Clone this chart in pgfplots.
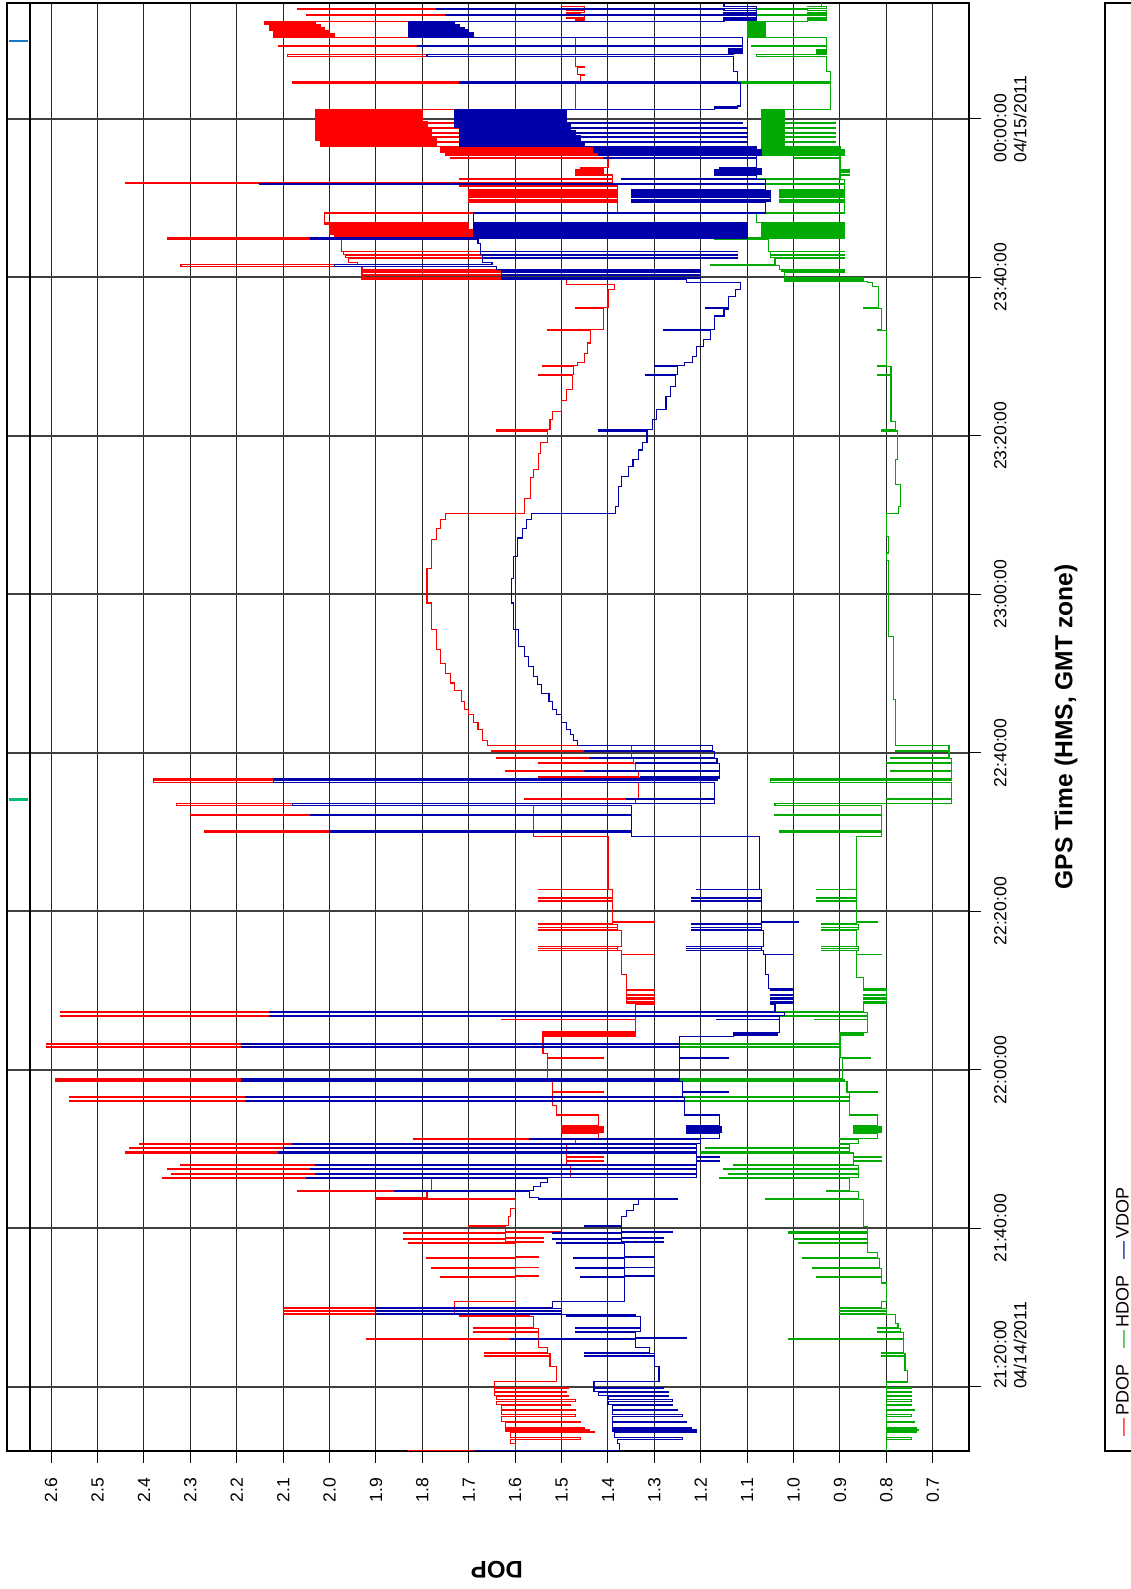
\documentclass[border=0pt]{standalone}
\usepackage{fontspec}
\setmainfont{Liberation Sans}
\usepackage{pgfplots}
\usepackage{pgfplotstable}
\pgfplotsset{compat=1.18}
\definecolor{pdop}{RGB}{255,0,0}
\definecolor{hdop}{RGB}{0,170,0}
\definecolor{vdop}{RGB}{0,0,170}

\pgfplotstableread{
t v
11.90 1.83
11.92 1.60
12.80 1.61
13.40 1.46
13.55 1.61
14.30 1.43
14.40 1.62
14.50 1.44
14.60 1.62
14.70 1.45
14.80 1.62
15.50 1.46
15.65 1.63
16.30 1.47
16.45 1.63
17.00 1.47
17.15 1.63
17.60 1.48
17.75 1.64
18.20 1.47
18.35 1.64
18.80 1.485
18.95 1.645
19.30 1.49
19.45 1.645
19.80 1.485
19.95 1.645
20.70 1.51
22.60 1.525
23.80 1.665
23.95 1.525
24.20 1.665
24.35 1.53
25.00 1.55
26.00 1.92
26.15 1.55
26.80 1.69
26.95 1.55
27.30 1.69
27.45 1.56
28.90 1.72
29.00 1.57
29.10 2.10
29.25 1.73
29.50 2.10
29.65 1.73
29.90 2.10
30.05 1.73
30.80 1.60
33.80 1.76
33.90 1.55
34.00 1.60
34.90 1.78
35.00 1.55
35.10 1.60
36.20 1.79
36.30 1.55
36.40 1.60
38.10 1.83
38.20 1.54
38.30 1.62
38.60 1.84
38.70 1.54
38.80 1.62
39.40 1.84
39.50 1.50
39.60 1.62
40.20 1.70
40.30 1.615
41.50 1.61
42.50 1.60
43.70 1.90
43.85 1.79
44.60 2.07
44.75 1.78
46.30 2.36
46.45 1.48
46.80 2.34
46.95 1.48
47.40 2.35
47.55 1.48
47.90 2.32
48.05 1.49
48.40 1.41
48.50 1.49
48.90 1.41
49.00 1.49
49.50 2.44
49.65 1.49
50.10 2.43
50.25 1.49
50.60 2.41
50.75 1.47
51.20 1.82
51.35 1.42
52.00 1.50
52.10 1.41
52.20 1.50
52.30 1.41
52.40 1.50
52.50 1.41
52.60 1.50
52.70 1.41
52.80 1.50
52.90 1.42
54.30 1.51
55.50 1.52
56.00 2.56
56.15 1.52
56.50 2.56
56.65 1.52
57.10 1.41
57.20 1.52
58.50 2.59
58.65 1.53
58.80 2.59
58.95 1.53
61.40 1.41
61.55 1.53
62.00 1.54
62.80 2.61
62.95 1.54
63.20 2.61
63.35 1.54
64.20 1.34
64.30 1.54
64.40 1.34
64.50 1.54
64.60 1.34
64.70 1.54
64.80 1.34
66.30 1.63
66.40 1.34
66.70 2.58
66.85 1.34
67.20 2.58
67.35 1.34
68.20 1.30
68.35 1.36
68.50 1.30
68.65 1.36
68.90 1.30
69.05 1.36
69.40 1.30
69.55 1.36
70.00 1.30
70.15 1.36
72.00 1.37
74.50 1.30
74.60 1.37
75.00 1.55
75.10 1.38
75.25 1.55
75.35 1.38
75.50 1.55
75.60 1.37
77.60 1.55
77.70 1.38
77.90 1.55
78.00 1.38
78.30 1.55
78.40 1.39
78.60 1.30
78.70 1.39
81.30 1.55
81.40 1.39
81.60 1.55
81.70 1.39
82.70 1.55
82.80 1.40
89.40 1.56
90.00 2.27
90.15 1.56
92.05 2.30
92.20 1.56
93.40 2.33
93.55 1.34
94.10 1.58
94.20 1.335
96.30 2.38
96.45 1.335
96.60 2.38
96.75 1.33
96.90 1.55
97.00 1.335
97.70 1.62
97.80 1.34
98.70 1.55
98.80 1.345
99.30 1.64
99.40 1.35
100.20 1.65
100.30 1.35
100.90 1.66
101.60 1.67
102.90 1.68
103.80 1.69
104.80 1.70
105.40 1.71
106.50 1.715
107.90 1.73
108.80 1.74
110.00 1.75
111.30 1.76
113.00 1.77
115.50 1.78
118.90 1.79
123.30 1.78
126.90 1.77
128.30 1.76
129.40 1.75
130.20 1.58
132.10 1.567
134.70 1.56
135.70 1.55
137.80 1.545
139.10 1.53
140.60 1.64
140.75 1.525
142.00 1.52
143.10 1.50
144.50 1.49
145.80 1.477
147.60 1.55
147.75 1.475
148.70 1.54
148.85 1.465
149.20 1.45
150.40 1.444
151.70 1.437
153.30 1.53
153.45 1.41
156.00 1.47
156.15 1.40
158.40 1.385
159.10 1.49
159.70 1.93
159.80 1.49
159.90 1.93
160.20 1.49
160.30 1.93
160.60 1.50
160.70 1.93
160.90 1.50
161.00 1.93
161.40 2.32
161.55 1.94
161.80 1.96
162.40 1.44
162.50 1.965
162.80 1.44
162.90 1.97
163.20 1.44
163.30 1.975
164.80 2.35
164.95 1.69
165.05 1.99
165.15 1.69
165.25 1.99
165.35 1.69
165.45 2.00
165.55 1.69
165.65 2.00
165.75 1.69
165.85 2.00
165.95 1.69
166.05 2.00
166.15 1.70
166.25 2.00
166.35 1.70
166.45 2.00
166.55 1.70
166.65 2.01
166.75 1.70
166.85 2.01
168.10 1.38
169.40 1.70
169.55 1.38
169.70 1.70
169.85 1.38
170.00 1.70
170.15 1.38
170.30 1.70
170.45 1.38
170.60 1.70
170.75 1.38
170.90 1.70
171.05 1.38
171.50 1.72
171.60 1.38
171.80 2.44
171.95 1.39
172.30 1.72
172.40 1.39
172.90 1.47
173.00 1.41
173.10 1.47
173.20 1.41
173.30 1.47
173.40 1.41
173.50 1.47
173.60 1.41
173.70 1.46
173.80 1.40
175.00 1.74
175.10 1.40
175.30 1.75
175.40 1.41
175.55 1.75
175.65 1.41
175.80 1.76
175.90 1.41
176.05 1.76
176.15 1.42
176.30 1.76
176.40 1.42
176.50 2.02
176.60 1.77
176.70 2.02
176.80 1.77
176.90 2.02
177.00 1.45
177.10 2.02
177.20 1.77
177.30 2.03
177.40 1.77
177.50 2.03
177.60 1.45
177.70 2.03
177.80 1.78
177.90 2.03
178.00 1.78
178.10 2.03
178.20 1.46
178.30 2.03
178.40 1.78
178.50 2.03
178.60 1.78
178.70 2.03
178.80 1.45
178.90 2.03
179.00 1.79
179.10 2.03
179.20 1.79
179.30 2.03
179.40 1.45
179.50 2.03
179.60 1.79
179.70 2.03
179.80 1.80
179.90 2.03
180.00 1.80
180.10 2.03
180.20 1.80
180.30 2.03
180.40 1.80
180.50 2.03
180.60 1.80
180.70 2.03
180.80 1.80
180.90 2.03
181.00 1.80
181.10 2.03
181.20 1.47
184.50 2.08
184.65 1.46
185.50 1.45
185.60 1.465
186.50 1.45
186.60 1.47
187.90 2.09
188.05 1.47
189.10 2.11
189.25 1.47
190.30 2.12
190.40 1.99
190.50 2.12
190.60 1.99
190.70 2.12
190.80 2.00
190.90 2.12
191.00 2.00
191.10 2.13
191.20 2.01
191.30 2.13
191.40 2.01
191.50 2.13
191.60 2.02
191.70 2.13
191.80 2.02
191.90 2.14
192.00 2.03
192.10 2.14
192.20 2.03
192.30 1.47
192.45 1.45
192.60 1.49
192.75 1.45
193.00 2.05
193.15 1.46
193.30 1.49
193.45 1.45
193.60 1.49
193.80 2.07
193.95 1.45
194.10 1.49
194.20 1.50
194.62 1.50
}\pdoptab

\pgfplotstableread{
t v
11.90 1.685
11.92 1.375
12.80 1.38
13.40 1.24
13.55 1.385
14.30 1.21
14.40 1.39
14.50 1.21
14.60 1.39
14.70 1.22
14.80 1.39
15.50 1.23
15.65 1.39
16.30 1.24
16.45 1.39
17.00 1.25
17.15 1.39
17.60 1.26
17.75 1.40
18.20 1.26
18.35 1.40
18.80 1.27
18.95 1.42
19.30 1.27
19.45 1.43
19.80 1.28
19.95 1.43
20.70 1.29
22.60 1.30
23.80 1.45
23.95 1.30
24.20 1.45
24.35 1.31
25.00 1.34
26.00 1.61
26.10 1.23
26.20 1.34
26.80 1.47
26.95 1.33
27.30 1.47
27.45 1.33
28.90 1.49
29.00 1.34
29.10 1.90
29.25 1.50
29.50 1.90
29.65 1.50
29.90 1.90
30.05 1.52
30.80 1.365
33.80 1.46
33.90 1.30
34.00 1.365
34.90 1.47
35.00 1.30
35.10 1.365
36.20 1.475
36.30 1.30
36.40 1.365
38.10 1.51
38.20 1.28
38.30 1.37
38.60 1.52
38.70 1.28
38.80 1.37
39.40 1.52
39.50 1.26
39.60 1.37
40.20 1.45
40.30 1.37
41.50 1.36
42.30 1.345
43.00 1.335
43.60 1.25
43.70 1.55
43.85 1.57
44.60 1.86
44.75 1.56
45.30 1.545
45.80 1.53
46.30 2.05
46.45 1.21
46.80 2.03
46.95 1.21
47.40 2.04
47.55 1.21
47.90 2.03
48.05 1.21
48.40 1.16
48.50 1.21
48.90 1.16
49.00 1.21
49.50 2.11
49.65 1.21
50.10 2.10
50.25 1.21
50.60 2.08
50.75 1.20
51.20 1.57
51.35 1.16
52.00 1.23
52.10 1.155
52.20 1.23
52.30 1.155
52.40 1.23
52.50 1.155
52.60 1.23
52.70 1.155
52.80 1.23
52.90 1.16
54.30 1.235
56.00 2.18
56.15 1.235
56.50 2.18
56.65 1.24
57.10 1.14
57.20 1.24
58.50 2.19
58.65 1.245
58.80 2.19
58.95 1.245
61.40 1.14
61.55 1.245
62.80 2.19
62.95 1.245
63.20 2.19
63.35 1.245
64.20 1.13
64.30 1.035
64.40 1.13
64.50 1.035
64.60 1.13
64.70 1.03
66.30 1.165
66.40 1.03
66.70 2.13
66.85 1.02
67.20 2.13
67.35 1.04
68.20 1.05
68.35 1.00
68.50 1.05
68.65 1.00
68.90 1.05
69.05 1.00
69.40 1.05
69.55 1.00
70.00 1.05
70.15 1.00
70.30 1.055
72.00 1.06
74.50 1.00
74.60 1.065
75.00 1.23
75.10 1.07
75.25 1.23
75.35 1.07
75.50 1.23
75.60 1.065
77.60 1.22
77.70 1.07
77.90 1.22
78.00 1.07
78.30 1.22
78.40 1.07
78.60 0.99
78.70 1.07
81.30 1.22
81.40 1.07
81.60 1.22
81.70 1.07
82.70 1.21
82.80 1.074
89.40 1.35
90.00 2.00
90.15 1.35
92.05 2.04
92.20 1.35
93.40 2.08
93.55 1.17
94.10 1.36
94.20 1.17
96.30 2.12
96.45 1.165
96.60 2.12
96.75 1.16
96.90 1.33
97.00 1.16
97.70 1.45
97.80 1.16
98.70 1.34
98.80 1.165
99.30 1.44
99.40 1.17
100.20 1.45
100.30 1.175
100.90 1.465
101.60 1.475
102.30 1.48
102.90 1.49
103.80 1.50
104.80 1.51
105.40 1.52
106.50 1.527
107.50 1.543
108.60 1.552
109.60 1.56
110.90 1.572
112.20 1.58
113.40 1.592
115.50 1.603
118.90 1.608
122.00 1.603
124.80 1.595
127.10 1.585
128.30 1.575
129.40 1.565
130.20 1.383
131.10 1.377
133.60 1.37
134.90 1.356
136.10 1.346
137.00 1.335
138.20 1.325
139.10 1.316
140.60 1.42
140.75 1.305
142.00 1.295
143.30 1.275
145.00 1.265
146.20 1.255
147.60 1.32
147.75 1.25
148.70 1.30
148.85 1.235
149.20 1.217
150.00 1.21
151.30 1.195
152.10 1.18
153.30 1.28
153.45 1.17
155.10 1.15
155.90 1.14
156.00 1.19
156.15 1.14
157.60 1.125
158.40 1.114
159.30 1.23
159.70 1.63
159.80 1.20
159.90 1.63
160.20 1.20
160.30 1.63
160.60 1.20
160.70 1.63
160.90 1.20
161.00 1.64
161.40 1.99
161.55 1.65
161.80 1.67
162.40 1.12
162.50 1.67
162.80 1.12
162.90 1.675
163.20 1.12
163.30 1.675
164.30 1.68
164.80 2.04
164.95 1.10
165.05 1.69
165.15 1.10
165.25 1.69
165.35 1.10
165.45 1.69
165.55 1.10
165.65 1.69
165.75 1.10
165.85 1.69
165.95 1.10
166.05 1.69
166.15 1.10
166.25 1.69
166.35 1.10
166.45 1.69
166.55 1.10
166.65 1.69
166.75 1.10
166.85 1.69
168.10 1.06
169.40 1.35
169.55 1.05
169.70 1.35
169.85 1.05
170.00 1.35
170.15 1.05
170.30 1.35
170.45 1.05
170.60 1.35
170.75 1.05
170.90 1.35
171.05 1.06
171.70 2.15
171.85 1.06
172.30 1.37
172.40 1.08
172.90 1.17
173.00 1.07
173.10 1.17
173.20 1.07
173.30 1.17
173.40 1.07
173.50 1.17
173.60 1.07
173.70 1.16
173.80 1.08
175.00 1.41
175.10 1.08
175.30 1.42
175.40 1.07
175.55 1.42
175.65 1.07
175.80 1.43
175.90 1.07
176.05 1.43
176.15 1.08
176.30 1.43
176.40 1.08
176.50 1.72
176.60 1.45
176.70 1.72
176.80 1.45
176.90 1.72
177.00 1.10
177.10 1.72
177.20 1.46
177.30 1.72
177.40 1.46
177.50 1.72
177.60 1.10
177.70 1.72
177.80 1.46
177.90 1.72
178.00 1.47
178.10 1.72
178.20 1.10
178.30 1.72
178.40 1.47
178.50 1.72
178.60 1.48
178.70 1.72
178.80 1.10
178.90 1.73
179.00 1.48
179.10 1.73
179.20 1.48
179.30 1.73
179.40 1.11
179.50 1.73
179.60 1.49
179.70 1.73
179.80 1.49
179.90 1.73
180.00 1.49
180.10 1.73
180.20 1.49
180.30 1.73
180.40 1.49
180.50 1.73
180.60 1.49
180.70 1.73
180.80 1.49
180.90 1.73
181.00 1.49
181.10 1.73
181.20 1.17
181.30 1.12
181.40 1.17
181.50 1.12
181.60 1.115
184.50 1.72
184.65 1.12
186.00 1.13
187.90 1.79
188.05 1.13
188.15 1.14
188.25 1.11
188.35 1.14
188.45 1.11
188.55 1.14
188.65 1.11
188.75 1.14
188.85 1.11
189.10 1.81
189.25 1.11
190.30 1.83
190.40 1.69
190.50 1.83
190.60 1.69
190.70 1.83
190.80 1.69
190.90 1.83
191.00 1.70
191.10 1.83
191.20 1.70
191.30 1.83
191.40 1.71
191.50 1.83
191.60 1.72
191.70 1.83
191.80 1.72
191.90 1.83
192.00 1.73
192.10 1.83
192.20 1.73
192.30 1.15
192.45 1.08
192.60 1.15
192.75 1.08
193.00 1.75
193.15 1.08
193.30 1.15
193.45 1.08
193.60 1.15
193.80 1.77
193.95 1.08
194.10 1.15
194.20 1.15
194.62 1.15
}\vdoptab

\pgfplotstableread{
t v
11.90 0.80
12.80 0.80
13.40 0.745
13.55 0.80
14.30 0.735
14.40 0.80
14.50 0.73
14.60 0.80
14.70 0.735
14.80 0.80
15.50 0.74
15.65 0.80
16.30 0.745
16.45 0.80
17.00 0.74
17.15 0.80
17.60 0.745
17.75 0.80
18.20 0.745
18.35 0.80
18.80 0.745
18.95 0.80
19.30 0.745
19.45 0.80
19.80 0.745
19.95 0.80
20.60 0.755
22.10 0.76
23.80 0.81
23.95 0.76
24.20 0.81
24.35 0.764
26.00 1.01
26.15 0.764
26.80 0.82
26.95 0.77
27.30 0.82
27.45 0.775
28.00 0.78
29.10 0.90
29.25 0.80
29.50 0.90
29.65 0.80
29.90 0.90
30.05 0.81
30.80 0.80
33.10 0.81
33.80 0.95
33.95 0.81
34.90 0.96
35.05 0.815
36.20 0.98
36.35 0.82
37.00 0.84
38.10 0.99
38.25 0.84
38.60 1.00
38.75 0.84
39.40 1.01
39.55 0.84
40.20 0.85
43.60 1.06
43.75 0.86
44.60 0.93
44.70 0.88
46.30 1.16
46.45 0.86
46.80 1.14
46.95 0.86
47.40 1.15
47.55 0.86
47.90 1.13
48.05 0.87
48.40 0.81
48.50 0.87
48.90 0.81
49.00 0.87
49.50 1.20
49.65 0.88
50.10 1.19
50.25 0.88
50.60 0.90
50.75 0.86
51.20 0.90
51.35 0.82
52.00 0.87
52.10 0.81
52.20 0.87
52.30 0.81
52.40 0.87
52.50 0.81
52.60 0.87
52.70 0.81
52.80 0.87
52.90 0.82
54.30 0.88
56.00 1.32
56.15 0.88
56.50 1.32
56.65 0.88
57.10 0.82
57.20 0.885
58.50 1.36
58.65 0.89
58.80 1.38
58.95 0.895
61.40 0.835
61.55 0.90
62.80 1.43
62.95 0.90
63.20 1.25
63.35 0.90
64.20 0.90
64.30 0.85
64.40 0.90
64.50 0.85
64.60 0.90
64.70 0.84
66.30 0.955
66.40 0.84
66.70 1.20
66.85 0.84
67.20 1.46
67.35 0.85
68.20 0.85
68.35 0.80
68.50 0.85
68.65 0.80
68.90 0.85
69.05 0.80
69.40 0.85
69.55 0.80
70.00 0.85
70.15 0.80
70.30 0.85
71.60 0.865
74.50 0.81
74.60 0.865
75.00 0.94
75.10 0.86
75.25 0.94
75.35 0.86
75.50 0.94
75.60 0.865
77.60 0.94
77.70 0.86
77.90 0.94
78.00 0.86
78.30 0.94
78.40 0.865
78.60 0.82
78.70 0.865
81.30 0.95
81.40 0.865
81.60 0.95
81.70 0.865
82.70 0.95
82.80 0.865
89.40 0.81
90.00 1.03
90.15 0.81
92.05 1.04
92.20 0.81
93.40 1.04
93.55 0.66
94.10 0.80
94.20 0.66
96.30 1.05
96.45 0.66
96.60 1.05
96.75 0.66
97.70 0.79
97.80 0.66
98.70 0.80
98.80 0.66
99.30 0.79
99.40 0.665
100.20 0.78
100.30 0.665
100.90 0.78
106.70 0.785
114.70 0.795
124.30 0.80
125.20 0.795
127.30 0.80
130.20 0.774
131.10 0.77
133.80 0.78
137.00 0.777
140.60 0.81
140.75 0.78
141.80 0.79
147.60 0.82
147.75 0.79
148.70 0.82
148.85 0.80
153.30 0.82
153.45 0.81
156.00 0.85
156.15 0.817
158.80 0.83
159.30 0.84
159.50 1.02
159.60 0.85
159.70 1.02
159.80 0.85
159.90 1.02
160.60 0.89
160.70 1.025
160.90 0.89
161.00 1.03
161.50 1.18
161.65 1.04
162.40 0.89
162.50 1.05
162.80 0.89
162.90 1.05
163.20 0.89
163.30 1.055
164.80 1.17
164.95 0.89
165.05 1.07
165.15 0.89
165.25 1.07
165.35 0.89
165.45 1.07
165.55 0.89
165.65 1.07
165.75 0.89
165.85 1.07
165.95 0.89
166.05 1.07
166.15 0.89
166.25 1.07
166.35 0.89
166.45 1.07
166.55 0.89
166.65 1.07
166.75 0.89
166.85 1.08
168.10 0.89
169.40 1.03
169.55 0.89
169.70 1.03
169.85 0.89
170.00 1.03
170.15 0.89
170.30 1.03
170.45 0.89
170.60 1.03
170.75 0.89
170.90 1.03
171.05 0.89
171.70 1.16
171.85 0.89
172.30 1.08
172.40 0.90
172.90 0.88
173.00 0.90
173.20 0.88
173.30 0.90
173.50 0.88
173.60 0.90
175.00 1.00
175.10 0.90
175.30 1.07
175.40 0.89
175.55 1.07
175.65 0.89
175.80 1.07
175.90 0.89
176.05 1.07
176.15 0.90
176.30 1.07
176.40 0.90
176.50 1.07
176.60 1.02
176.70 1.07
176.80 1.02
176.90 1.07
177.00 0.91
177.10 1.07
177.20 1.02
177.30 1.07
177.40 1.02
177.50 1.07
177.60 0.91
177.70 1.07
177.80 1.02
177.90 1.07
178.00 1.02
178.10 1.07
178.20 0.91
178.30 1.07
178.40 1.02
178.50 1.07
178.60 1.02
178.70 1.07
178.80 0.91
178.90 1.07
179.00 1.02
179.10 1.07
179.20 1.02
179.30 1.07
179.40 0.91
179.50 1.07
179.60 1.02
179.70 1.07
179.80 1.02
179.90 1.07
180.00 1.02
180.10 1.07
180.20 1.02
180.30 1.07
180.40 1.02
180.50 1.07
180.60 1.02
180.70 1.07
180.80 1.02
180.90 1.07
181.00 1.02
181.10 1.07
181.20 0.92
184.50 1.16
184.65 0.92
186.00 0.93
187.90 1.08
188.05 0.95
188.15 0.93
188.25 0.95
188.35 0.93
188.45 0.95
188.55 0.93
188.65 0.95
188.75 0.93
188.85 0.93
189.10 1.09
189.25 0.93
190.30 1.10
190.40 1.06
190.50 1.10
190.60 1.06
190.70 1.10
190.80 1.06
190.90 1.10
191.00 1.06
191.10 1.10
191.20 1.06
191.30 1.10
191.40 1.06
191.50 1.10
191.60 1.06
191.70 1.10
191.80 1.06
191.90 1.10
192.00 1.06
192.10 1.10
192.20 1.06
192.30 0.97
192.45 0.93
192.60 0.97
192.75 0.93
193.00 1.08
193.15 0.93
193.30 0.97
193.45 0.93
193.60 0.97
193.80 1.08
193.95 0.93
194.10 0.97
194.20 0.94
194.62 0.94
}\hdoptab

\newcommand{\lowlab}[1]{\makebox[86pt][l]{\hspace*{42pt}#1}}
\newcommand{\toplab}[1]{\makebox[44pt][l]{#1}}

\begin{document}
\begin{tikzpicture}
\begin{axis}[
  at={(0,0)}, anchor=south west,
  width=480.75pt, height=724pt, scale only axis,
  x dir=reverse,
  xmin=0.622, xmax=2.694,
  ymin=11.9, ymax=194.6,
  xtick={0.7,0.8,0.9,1.0,1.1,1.2,1.3,1.4,1.5,1.6,1.7,1.8,1.9,2.0,2.1,2.2,2.3,2.4,2.5,2.6},
  xticklabels={0.7,0.8,0.9,1.0,1.1,1.2,1.3,1.4,1.5,1.6,1.7,1.8,1.9,2.0,2.1,2.2,2.3,2.4,2.5,2.6},
  ytick={20,40,60,80,100,120,140,160,180},
  yticklabels={{\lowlab{21:20:00}\\\lowlab{04/14/2011}},21:40:00,22:00:00,22:20:00,22:40:00,23:00:00,23:20:00,23:40:00,{\toplab{00:00:00}\\\toplab{04/15/2011}}},
  xtick pos=left, ytick pos=right,
  xticklabel pos=left, yticklabel pos=right,
  tick align=outside,
  major tick length=6pt,
  tick style={black, line width=0.5pt},
  grid=major,
  major x grid style={black!85, line width=0.5pt},
  major y grid style={black!75, line width=0.9pt},
  axis line style={black, line width=1pt},
  xticklabel style={rotate=90, anchor=east, font=\fontsize{8.8}{10}\selectfont},
  yticklabel style={rotate=90, anchor=north, align=center, font=\fontsize{8.8}{10}\selectfont},
  xticklabel shift=4pt,
  yticklabel shift=3pt,
  xlabel={DOP},
  xlabel style={at={(axis description cs:0.509,-0.0822)}, anchor=center, rotate=180, font=\bfseries\fontsize{12}{14}\selectfont},
  ylabel={GPS Time (HMS, GMT zone)},
  ylabel style={at={(axis description cs:1.101,0.5)}, anchor=center, font=\bfseries\fontsize{12.3}{14}\selectfont},
]
\addplot[black, line width=1pt] coordinates {(2.645,11.9) (2.645,194.6)};
\addplot[color={rgb,255:red,30;green,120;blue,200}, line width=1.3pt] coordinates {(2.69,189.8) (2.65,189.8)};
\addplot[color={rgb,255:red,0;green,190;blue,110}, line width=1.3pt] coordinates {(2.69,94.1) (2.65,94.1)};
\addplot[pdop, const plot mark right, line width=0.55pt] table[x=v,y=t] {\pdoptab};
\addplot[hdop, const plot mark right, line width=0.55pt] table[x=v,y=t] {\hdoptab};
\addplot[vdop, const plot mark right, line width=0.55pt] table[x=v,y=t] {\vdoptab};
\end{axis}
\draw[black, line width=1pt] (548.75pt,0pt) rectangle (600pt,724pt);
\node[rotate=90, anchor=base west, inner sep=0pt, font=\fontsize{9}{10}\selectfont] at (560.5pt,7pt)
  {\textcolor{pdop}{---}\,PDOP\hspace{8pt}\textcolor{hdop}{---}\,HDOP\hspace{8pt}\textcolor{vdop}{---}\,VDOP};
\pgfresetboundingbox
\path[use as bounding box] (-3.75pt,-69pt) rectangle (561.25pt,725.5pt);
\end{tikzpicture}
\end{document}
